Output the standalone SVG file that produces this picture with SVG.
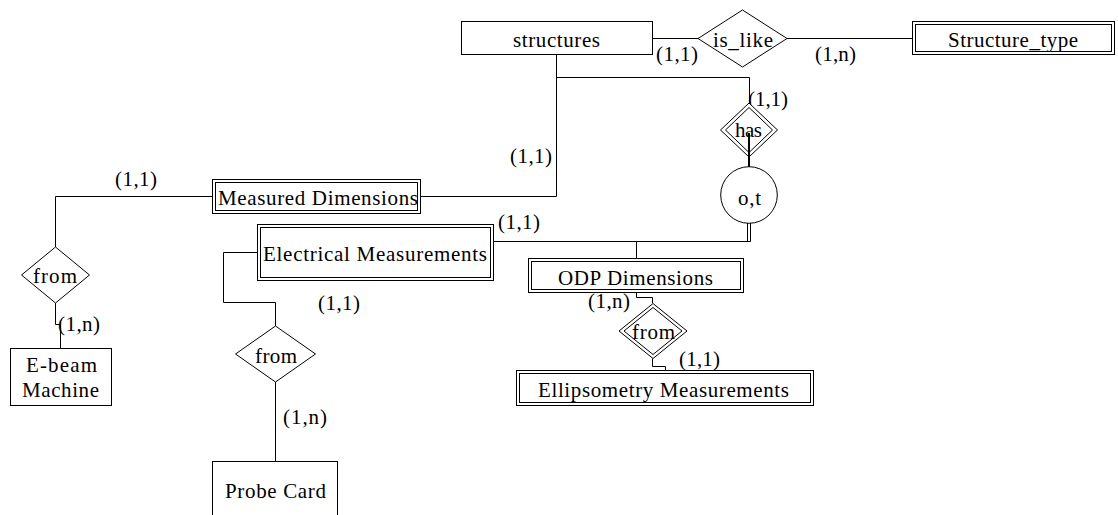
<svg xmlns="http://www.w3.org/2000/svg" width="1118" height="515" viewBox="0 0 1118 515" font-family="'Liberation Serif', 'Times New Roman', 'DejaVu Serif', serif" font-size="21">
  <style>
    .shape { fill: #ffffff; stroke: #000000; stroke-width: 1; }
    .line { fill: none; stroke: #000000; stroke-width: 1; }
    .bold { fill: none; stroke: #000000; stroke-width: 2; }
    text { font-family: 'Liberation Serif', 'Times New Roman', 'DejaVu Serif', serif; font-size: 21px; fill: #000000; }
  </style>
  <rect width="1118" height="515" fill="#ffffff"/>

  <!-- connectors -->
  <g id="connectors">
    <path class="line" d="M653,38.5 H698"/>
    <path class="line" d="M787,38.5 H912"/>
    <path class="line" d="M556.5,54 V196.5 H421"/>
    <path class="line" d="M556.5,77.5 H749.5 V103"/>
    <path class="bold" d="M749,152 V167"/>
    <path class="line" d="M747.5,223 V241"/>
    <path class="line" d="M750.5,223 V241.5 H494"/>
    <path class="line" d="M636.5,241.5 V258"/>
    <path class="line" d="M212,196.5 H55.5 V247"/>
    <path class="line" d="M55.5,303 V324.5 H60.5 V348"/>
    <path class="line" d="M257,252.5 H223.5 V302.5 H275.5 V326"/>
    <path class="line" d="M275.5,382 V461"/>
    <path class="line" d="M636.5,292 V297.5 H652.5 V303"/>
    <path class="line" d="M652.5,358.5 V366.5 H665.5 V370"/>
  </g>

  <!-- cardinality labels -->
  <g id="cardinalities">
    <text x="656" y="61" textLength="42" lengthAdjust="spacing">(1,1)</text>
    <text x="815" y="61" textLength="41" lengthAdjust="spacing">(1,n)</text>
    <text x="748" y="106" textLength="40" lengthAdjust="spacing">(1,1)</text>
    <text x="510" y="163" textLength="42" lengthAdjust="spacing">(1,1)</text>
    <text x="498" y="229" textLength="42" lengthAdjust="spacing">(1,1)</text>
    <text x="115" y="186" textLength="42" lengthAdjust="spacing">(1,1)</text>
    <text x="58" y="331" textLength="42" lengthAdjust="spacing">(1,n)</text>
    <text x="318" y="310" textLength="42" lengthAdjust="spacing">(1,1)</text>
    <text x="283" y="424" textLength="44" lengthAdjust="spacing">(1,n)</text>
    <text x="588" y="308" textLength="42" lengthAdjust="spacing">(1,n)</text>
    <text x="679" y="366" textLength="41" lengthAdjust="spacing">(1,1)</text>
  </g>

  <g id="structures">
    <rect class="shape" x="461.5" y="21.5" width="191" height="33"/>
    <text x="513" y="47" textLength="87" lengthAdjust="spacing">structures</text>
  </g>

  <g id="is_like">
    <polygon class="shape" points="698,38.5 742.5,10 787,38.5 742.5,67"/>
    <text x="713" y="47" textLength="60" lengthAdjust="spacing">is_like</text>
  </g>

  <g id="structure_type">
    <rect class="shape" x="912.5" y="21.5" width="202" height="33"/>
    <rect class="shape" x="915.5" y="24.5" width="196" height="27"/>
    <text x="948" y="47" textLength="130" lengthAdjust="spacing">Structure_type</text>
  </g>

  <g id="has">
    <polygon class="shape" points="720.5,130 749,103 777.5,130 749,157"/>
    <polygon class="shape" points="725.5,130 749,107.5 772.5,130 749,152.5"/>
    <text x="735" y="137" textLength="27" lengthAdjust="spacing">has</text>
    <path class="bold" d="M749,133 V157"/>
  </g>

  <g id="specialization">
    <circle class="shape" cx="749" cy="195" r="28.3"/>
    <text x="738" y="205" textLength="23" lengthAdjust="spacing">o,t</text>
  </g>

  <g id="measured_dimensions">
    <rect class="shape" x="212.5" y="179.5" width="208" height="34"/>
    <rect class="shape" x="215.5" y="182.5" width="202" height="28"/>
    <text x="218" y="205" textLength="200" lengthAdjust="spacing">Measured Dimensions</text>
  </g>

  <g id="electrical_measurements">
    <rect class="shape" x="257.5" y="224.5" width="236" height="56"/>
    <rect class="shape" x="260.5" y="227.5" width="230" height="50"/>
    <text x="263" y="261" textLength="224" lengthAdjust="spacing">Electrical Measurements</text>
  </g>

  <g id="odp_dimensions">
    <rect class="shape" x="528.5" y="258.5" width="215" height="34"/>
    <rect class="shape" x="531.5" y="261.5" width="209" height="28"/>
    <text x="558" y="285" textLength="155" lengthAdjust="spacing">ODP Dimensions</text>
  </g>

  <g id="from_odp">
    <polygon class="shape" points="619,331 653,303.5 687,331 653,358.5"/>
    <polygon class="shape" points="624,331 653,307.5 682,331 653,354.5"/>
    <text x="632" y="339" textLength="43" lengthAdjust="spacing">from</text>
  </g>

  <g id="ellipsometry_measurements">
    <rect class="shape" x="516.5" y="370.5" width="297" height="35"/>
    <rect class="shape" x="519.5" y="373.5" width="291" height="29"/>
    <text x="538" y="397" textLength="251" lengthAdjust="spacing">Ellipsometry Measurements</text>
  </g>

  <g id="from_ebeam">
    <polygon class="shape" points="21.5,275 55.5,247 89.5,275 55.5,303"/>
    <text x="33" y="283" textLength="44" lengthAdjust="spacing">from</text>
  </g>

  <g id="ebeam_machine">
    <rect class="shape" x="10.5" y="348.5" width="101" height="57"/>
    <text x="26" y="372" textLength="71" lengthAdjust="spacing">E-beam</text>
    <text x="22" y="397" textLength="77" lengthAdjust="spacing">Machine</text>
  </g>

  <g id="from_probe">
    <polygon class="shape" points="235.5,354 275.5,326 315.5,354 275.5,382"/>
    <text x="255" y="363" textLength="42" lengthAdjust="spacing">from</text>
  </g>

  <g id="probe_card">
    <rect class="shape" x="212.5" y="461.5" width="125" height="60"/>
    <text x="225" y="498" textLength="101" lengthAdjust="spacing">Probe Card</text>
  </g>
</svg>
